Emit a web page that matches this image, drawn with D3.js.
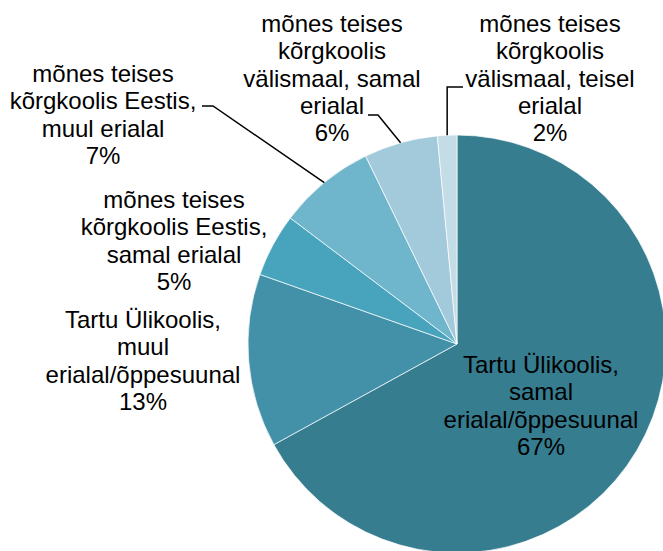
<!DOCTYPE html>
<html>
<head>
<meta charset="utf-8">
<script src="https://cdn.jsdelivr.net/npm/d3@7"></script>
<style>
    body { margin: 0; background: #fff; }
    text { font-family: "Liberation Sans", Arial, sans-serif; font-size: 24px; fill: #000; }
</style>
</head>
<body>
<div id="holder"></div>
<script>
// slices, clockwise from 12 o'clock
const categories = [
    ["Tartu Ülikoolis,", "samal", "erialal/õppesuunal"],
    ["Tartu Ülikoolis,", "muul", "erialal/õppesuunal"],
    ["mõnes teises", "kõrgkoolis Eestis,", "samal erialal"],
    ["mõnes teises", "kõrgkoolis Eestis,", "muul erialal"],
    ["mõnes teises", "kõrgkoolis", "välismaal, samal", "erialal"],
    ["mõnes teises", "kõrgkoolis", "välismaal, teisel", "erialal"]
];
const values = [67.0, 13.4, 4.9, 7.5, 5.7, 1.5];
const pctLabels = ["67%", "13%", "5%", "7%", "6%", "2%"];
const colors = ["#367d90", "#4391a9", "#48a4bd", "#6fb6cc", "#a3cada", "#c3dce6"];

const w = 663, h = 551;
const cx = 457, cy = 344, radius = 209;
const lineH = 27.3;

// label block: centre x, first baseline y
const labelPos = [
    [541, 373],
    [143, 328],
    [174, 208],
    [103, 82],
    [332, 32],
    [550, 32]
];
// leader start points next to the label text; elbow kind
const leaders = [
    null,
    null,
    null,
    {from: [202, 106], elbow: [213, 106]},
    {from: [368, 115], elbow: [378, 115]},
    {from: [463, 87], vertical: true}
];

const svg = d3.select('#holder')
    .append('svg')
    .attr('width', w)
    .attr('height', h);

const pie = d3.pie().sort(null).value(d => d)(values);
const arc = d3.arc().innerRadius(0).outerRadius(radius);

const g = svg.append('g').attr('transform', `translate(${cx},${cy})`);

g.selectAll('path')
    .data(pie)
    .enter()
    .append('path')
    .attr('d', arc)
    .style('fill', (d, i) => colors[i])
    .style('stroke', '#fff')
    .style('stroke-width', 0.7);

// leader lines
pie.forEach((d, i) => {
    const ld = leaders[i];
    if (!ld) return;
    const mid = (d.startAngle + d.endAngle) / 2;
    const ex = cx + radius * Math.sin(mid);
    const ey = cy - radius * Math.cos(mid);
    const pts = ld.vertical
        ? [ld.from, [ex, ld.from[1]], [ex, ey]]
        : [ld.from, ld.elbow, [ex, ey]];
    svg.append('path')
        .attr('d', d3.line()(pts))
        .style('fill', 'none')
        .style('stroke', '#000')
        .style('stroke-width', 1.5);
});

// labels
categories.forEach((lines, i) => {
    const [x, y] = labelPos[i];
    const t = svg.append('text')
        .attr('x', x)
        .attr('y', y)
        .style('text-anchor', 'middle');
    lines.concat([pctLabels[i]]).forEach((s, j) => {
        t.append('tspan')
            .attr('x', x)
            .attr('y', y + j * lineH)
            .text(s);
    });
});
</script>
</body>
</html>
